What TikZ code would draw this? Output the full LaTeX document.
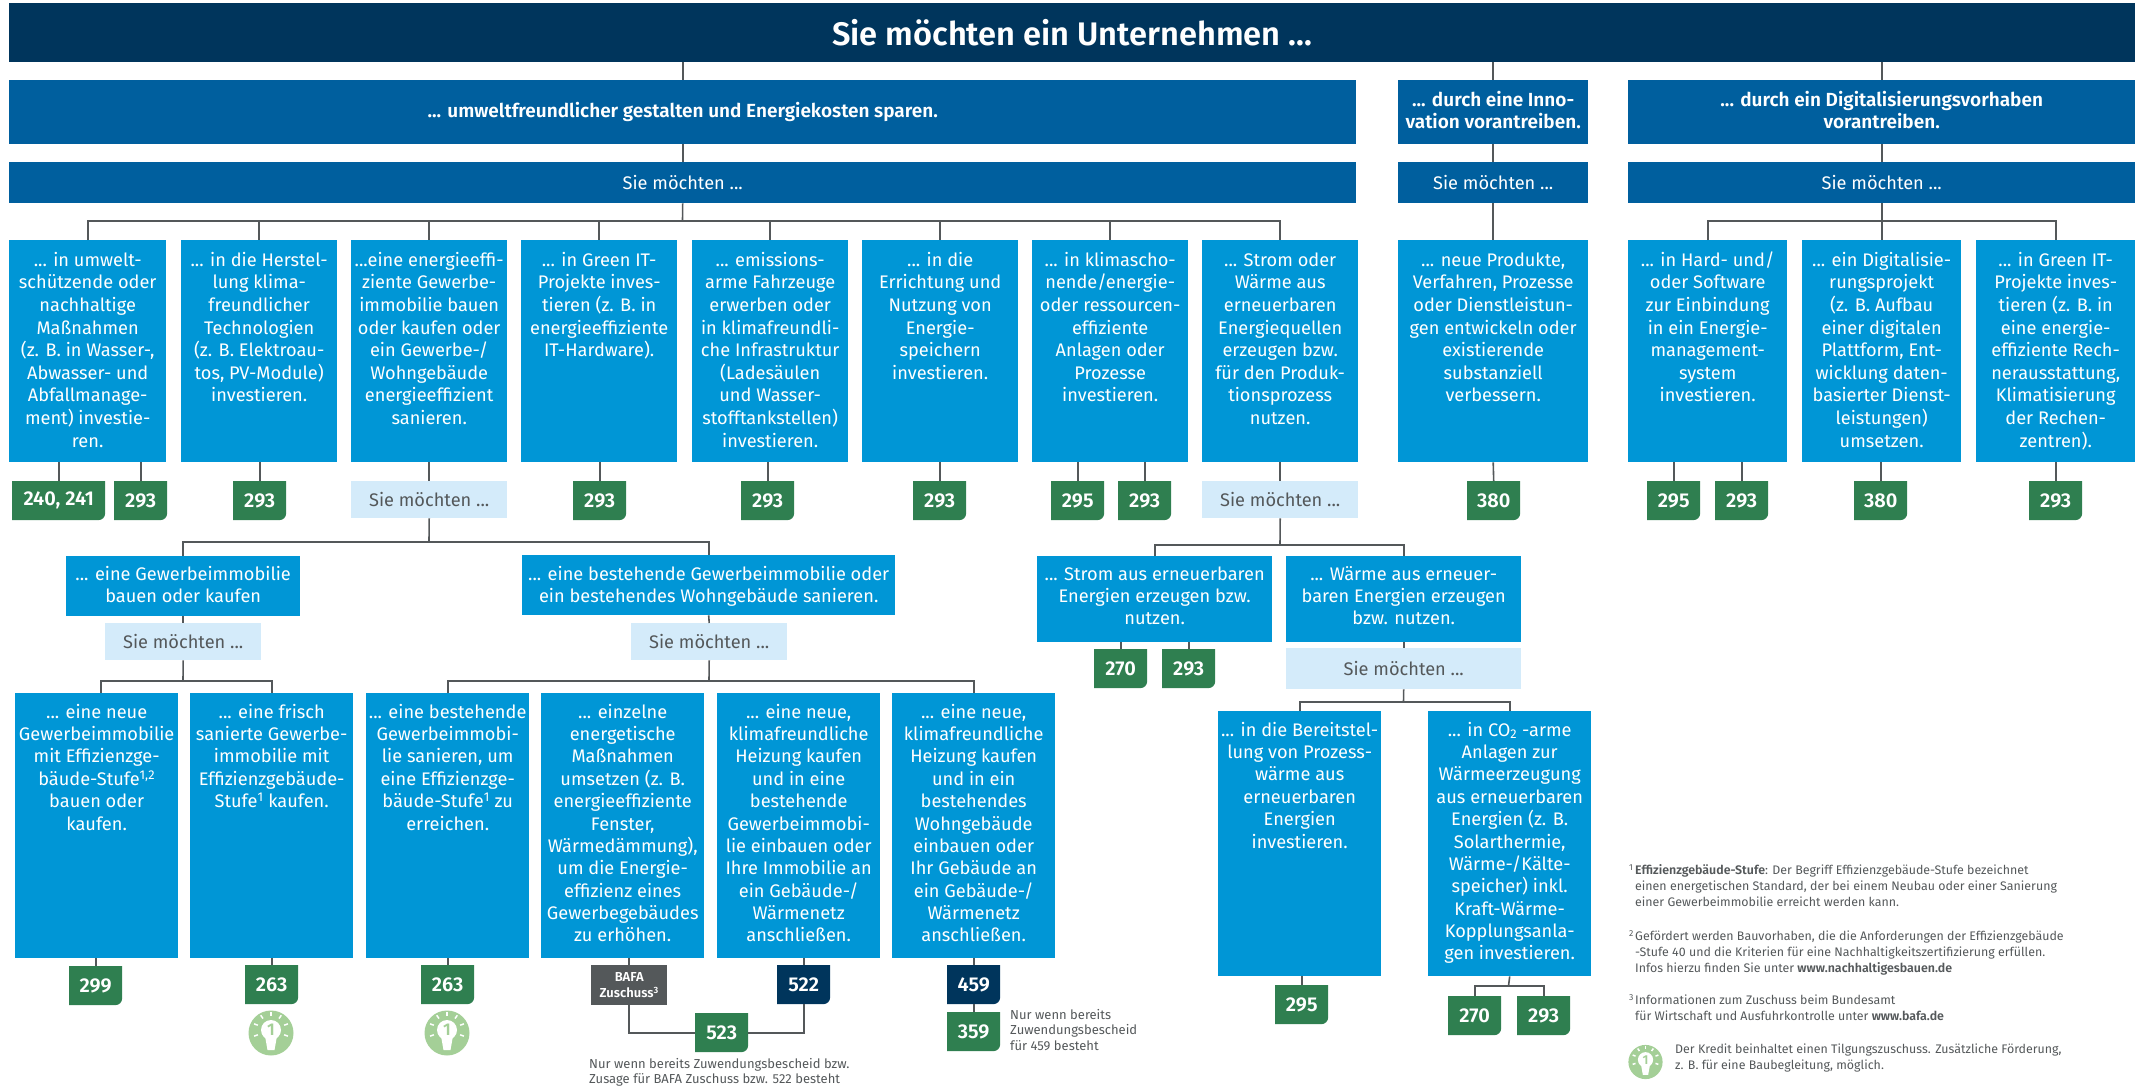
\documentclass[tikz,border=0pt]{standalone}
\usepackage{fontspec}
\setmainfont[BoldFont={Fira Sans SemiBold}]{Fira Sans}
\usetikzlibrary{positioning,arrows}
\definecolor{navy}{HTML}{00355C}
\definecolor{midblue}{HTML}{005F9E}
\definecolor{cardblue}{HTML}{0096D6}
\definecolor{paleblue}{HTML}{D4EBFA}
\definecolor{badgegreen}{HTML}{2F7F50}
\definecolor{bafagray}{HTML}{54585A}
\definecolor{bulbgreen}{HTML}{A4CF97}
\definecolor{linegray}{HTML}{54585A}
\newcommand{\cardtext}[4][26]{\parbox[t][#3pt][t]{#2pt}{\centering\rule{0pt}{#1pt}#4}}
\tikzset{
  box/.style={anchor=north west, inner sep=0pt, align=center, text=white, font=\fontsize{18.2}{22.6}\selectfont},
  titlebox/.style={box, fill=navy, font=\fontsize{32.6}{38}\selectfont\bfseries},
  headbox/.style={box, fill=midblue, font=\fontsize{19}{22}\selectfont\bfseries},
  subbox/.style={box, fill=midblue},
  card/.style={box, fill=cardblue},
  lowcard/.style={box, fill=cardblue, font=\fontsize{18.2}{22.36}\selectfont},
  palebox/.style={box, fill=paleblue, text=linegray},
  badge/.style={anchor=north west, inner sep=0pt, text=white, minimum width=53pt, minimum height=39pt,
    font=\fontsize{20}{24}\selectfont\bfseries,
    path picture={\fill[#1] (path picture bounding box.north west) -- (path picture bounding box.north east)
      [rounded corners=7pt] -- (path picture bounding box.south east) [sharp corners]
      -- (path picture bounding box.south west) -- cycle;}},
  badge/.default=badgegreen,
  note/.style={anchor=north west, inner sep=0pt, align=left, text=linegray, font=\fontsize{13}{15.6}\selectfont},
  footnote/.style={note, font=\fontsize{12.4}{16}\selectfont},
  conn/.style={draw=linegray, line width=1.6pt},
  bulbicon/.pic={
    \fill[bulbgreen] (0,0) circle (22.5);
    \fill[white] (0,-3) circle (10);
    \fill[white] (-6,3) -- (6,3) -- (3.5,17) -- (-3.5,17) -- cycle;
    \foreach \a in {-160,-125,-90,-55,-20,20,160}
      \draw[white, line width=1.5pt] (\a:14) ++(0,-3) -- ++(\a:4);
    \node[transform shape, inner sep=0pt, text=bulbgreen, font=\fontsize{17}{17}\selectfont\bfseries] (one) at (0,-3) {1};
  }
}

\begin{document}
\begin{tikzpicture}[x=1pt, y=-1pt]
      \useasboundingbox (0,0) rectangle (2145,1092);
      % top rows
      \node[titlebox, minimum width=2126pt, minimum height=59pt] (title) at (9,3) {Sie möchten ein Unternehmen ...};
      \node[headbox, minimum width=1347pt, minimum height=64pt] (umwelt) at (9,80) {... umweltfreundlicher gestalten und Energiekosten sparen.};
      \node[headbox] (innov) at (1398,80) {\cardtext[26]{190}{64}{... durch eine Inno-\\vation vorantreiben.}};
      \node[headbox] (digital) at (1628,80) {\cardtext[26]{507}{64}{... durch ein Digitalisierungsvorhaben\\vorantreiben.}};
      \node[subbox, minimum width=1347pt, minimum height=41pt] (umweltsub) at (9,162) {Sie möchten ...};
      \node[subbox, minimum width=190pt, minimum height=41pt] (innovsub) at (1398,162) {Sie möchten ...};
      \node[subbox, minimum width=507pt, minimum height=41pt] (digitalsub) at (1628,162) {Sie möchten ...};
      % first row of cards
      \node[card] (c1) at (9,240) {\cardtext{157}{222}{... in umwelt-\\schützende oder\\nachhaltige\\Maßnahmen\\(z. B. in Wasser-,\\Abwasser- und\\Abfallmanage-\\ment) investie-\\ren.}};
      \node[card] (c2) at (181,240) {\cardtext{156}{222}{... in die Herstel-\\lung klima-\\freundlicher\\Technologien\\(z. B. Elektroau-\\tos, PV-Module)\\investieren.}};
      \node[card] (c3) at (351,240) {\cardtext{156}{222}{...eine energieeffi-\\ziente Gewerbe-\\immobilie bauen\\oder kaufen oder\\ein Gewerbe-/\\Wohngebäude\\energieeffizient\\sanieren.}};
      \node[card] (c4) at (521,240) {\cardtext{156}{222}{... in Green IT-\\Projekte inves-\\tieren (z. B. in\\energieeffiziente\\IT-Hardware).}};
      \node[card] (c5) at (692,240) {\cardtext{156}{222}{... emissions-\\arme Fahrzeuge\\erwerben oder\\in klimafreundli-\\che Infrastruktur\\(Ladesäulen\\und Wasser-\\stofftankstellen)\\investieren.}};
      \node[card] (c6) at (862,240) {\cardtext{156}{222}{... in die\\Errichtung und\\Nutzung von\\Energie-\\speichern\\investieren.}};
      \node[card] (c7) at (1032,240) {\cardtext{156}{222}{... in klimascho-\\nende/energie-\\oder ressourcen-\\effiziente\\Anlagen oder\\Prozesse\\investieren.}};
      \node[card] (c8) at (1202,240) {\cardtext{156}{222}{... Strom oder\\Wärme aus\\erneuerbaren\\Energiequellen\\erzeugen bzw.\\für den Produk-\\tionsprozess\\nutzen.}};
      \node[card] (c9) at (1398,240) {\cardtext{190}{222}{... neue Produkte,\\Verfahren, Prozesse\\oder Dienstleistun-\\gen entwickeln oder\\existierende\\substanziell\\verbessern.}};
      \node[card] (c10) at (1628,240) {\cardtext{159}{222}{... in Hard- und/\\oder Software\\zur Einbindung\\in ein Energie-\\management-\\system\\investieren.}};
      \node[card] (c11) at (1802,240) {\cardtext{159}{222}{... ein Digitalisie-\\rungsprojekt\\(z. B. Aufbau\\einer digitalen\\Plattform, Ent-\\wicklung daten-\\basierter Dienst-\\leistungen)\\umsetzen.}};
      \node[card] (c12) at (1976,240) {\cardtext{159}{222}{... in Green IT-\\Projekte inves-\\tieren (z. B. in\\eine energie-\\effiziente Rech-\\nerausstattung,\\Klimatisierung\\der Rechen-\\zentren).}};
      % badges under the first row
      \node[badge, minimum width=93pt] (b240) at (12,481) {240, 241};
      \node[badge] (b293a) at (114,481) {293};
      \node[badge] (b293b) at (233,481) {293};
      \node[palebox, minimum width=156pt, minimum height=37pt] (pale1) at (351,481) {Sie möchten ...};
      \node[badge] (b293c) at (573,481) {293};
      \node[badge] (b293d) at (741,481) {293};
      \node[badge] (b293e) at (913,481) {293};
      \node[badge] (b295a) at (1051,481) {295};
      \node[badge] (b293f) at (1118,481) {293};
      \node[palebox, minimum width=156pt, minimum height=37pt] (pale2) at (1202,481) {Sie möchten ...};
      \node[badge] (b380a) at (1467,481) {380};
      \node[badge] (b295b) at (1647,481) {295};
      \node[badge] (b293g) at (1715,481) {293};
      \node[badge] (b380b) at (1854,481) {380};
      \node[badge] (b293h) at (2029,481) {293};
      % second level
      \node[lowcard] (neu) at (66,556) {\cardtext[24]{234}{60}{... eine Gewerbeimmobilie\\bauen oder kaufen}};
      \node[lowcard] (best) at (522,555) {\cardtext[25]{373}{60}{... eine bestehende Gewerbeimmobilie oder\\ein bestehendes Wohngebäude sanieren.}};
      \node[palebox, minimum width=156pt, minimum height=37pt] (pale3) at (105,623) {Sie möchten ...};
      \node[palebox, minimum width=156pt, minimum height=37pt] (pale4) at (631,623) {Sie möchten ...};
      \node[lowcard] (strom) at (1037,556) {\cardtext[24]{235}{86}{... Strom aus erneuerbaren\\Energien erzeugen bzw.\\nutzen.}};
      \node[lowcard] (waerme) at (1286,556) {\cardtext[24]{235}{86}{... Wärme aus erneuer-\\baren Energien erzeugen\\bzw. nutzen.}};
      \node[badge] (b270a) at (1094,649) {270};
      \node[badge] (b293i) at (1162,649) {293};
      \node[palebox, minimum width=235pt, minimum height=41pt] (pale5) at (1286,648) {Sie möchten ...};
      % third level
      \node[lowcard] (d1) at (15,693) {\cardtext[25]{163}{265}{... eine neue\\Gewerbeimmobilie\\mit Effizienzge-\\bäude-Stufe\textsuperscript{1,2}\\bauen oder\\kaufen.}};
      \node[lowcard] (d2) at (190,693) {\cardtext[25]{163}{265}{... eine frisch\\sanierte Gewerbe-\\immobilie mit\\Effizienzgebäude-\\Stufe\textsuperscript{1} kaufen.}};
      \node[lowcard] (d3) at (366,693) {\cardtext[25]{163}{265}{... eine bestehende\\Gewerbeimmobi-\\lie sanieren, um\\eine Effizienzge-\\bäude-Stufe\textsuperscript{1} zu\\erreichen.}};
      \node[lowcard] (d4) at (541,693) {\cardtext[25]{163}{265}{... einzelne\\energetische\\Maßnahmen\\umsetzen (z. B.\\energieeffiziente\\Fenster,\\Wärmedämmung),\\um die Energie-\\effizienz eines\\Gewerbegebäudes\\zu erhöhen.}};
      \node[lowcard] (d5) at (717,693) {\cardtext[25]{163}{265}{... eine neue,\\klimafreundliche\\Heizung kaufen\\und in eine\\bestehende\\Gewerbeimmobi-\\lie einbauen oder\\Ihre Immobilie an\\ein Gebäude-/\\Wärmenetz\\anschließen.}};
      \node[lowcard] (d6) at (892,693) {\cardtext[25]{163}{265}{... eine neue,\\klimafreundliche\\Heizung kaufen\\und in ein\\bestehendes\\Wohngebäude\\einbauen oder\\Ihr Gebäude an\\ein Gebäude-/\\Wärmenetz\\anschließen.}};
      \node[lowcard] (e1) at (1218,711) {\cardtext[25]{163}{265}{... in die Bereitstel-\\lung von Prozess-\\wärme aus\\erneuerbaren\\Energien\\investieren.}};
      \node[lowcard] (e2) at (1428,711) {\cardtext[25]{163}{265}{... in CO\textsubscript{2} -arme\\Anlagen zur\\Wärmeerzeugung\\aus erneuerbaren\\Energien (z. B.\\Solarthermie,\\Wärme-/Kälte-\\speicher) inkl.\\Kraft-Wärme-\\Kopplungsanla-\\gen investieren.}};
      % badges under the third level
      \node[badge] (b299) at (69,966) {299};
      \node[badge] (b263a) at (245,965) {263};
      \node[badge] (b263b) at (421,965) {263};
      \node[box, fill=bafagray, minimum width=76pt, minimum height=40pt, font=\fontsize{13}{16}\selectfont\bfseries] (bafa) at (591,965) {BAFA\\Zuschuss\textsuperscript{3}};
      \node[badge=navy] (b522) at (777,965) {522};
      \node[badge] (b523) at (695,1013) {523};
      \node[badge=navy] (b459) at (947,965) {459};
      \node[badge] (b359) at (947,1012) {359};
      \node[badge] (b295c) at (1275,985) {295};
      \node[badge] (b270b) at (1448,996) {270};
      \node[badge] (b293j) at (1517,996) {293};
      % bulbs
      \pic (bulbA) at (271,1033) {bulbicon};
      \pic (bulbB) at (447,1033) {bulbicon};
      \pic[scale=0.76] (bulbC) at (1645.5,1062) {bulbicon};
      % notes
      \node[note] (note523) at (589,1058) {Nur wenn bereits Zuwendungsbescheid bzw.\\Zusage für BAFA Zuschuss bzw. 522 besteht};
      \node[note] (note359) at (1010,1009) {Nur wenn bereits\\Zuwendungsbescheid\\für 459 besteht};
      \node[footnote] (foot1) at (1629,864) {\makebox[6pt][l]{\textsuperscript{1}}\textbf{Effizienzgebäude-Stufe}: Der Begriff Effizienzgebäude-Stufe bezeichnet\\\hspace*{6pt}einen energetischen Standard, der bei einem Neubau oder einer Sanierung\\\hspace*{6pt}einer Gewerbeimmobilie erreicht werden kann.};
      \node[footnote] (foot2) at (1629,930) {\makebox[6pt][l]{\textsuperscript{2}}Gefördert werden Bauvorhaben, die die Anforderungen der Effizienzgebäude\\\hspace*{6pt}-Stufe 40 und die Kriterien für eine Nachhaltigkeitszertifizierung erfüllen.\\\hspace*{6pt}Infos hierzu finden Sie unter \textbf{www.nachhaltigesbauen.de}};
      \node[footnote] (foot3) at (1629,994) {\makebox[6pt][l]{\textsuperscript{3}}Informationen zum Zuschuss beim Bundesamt\\\hspace*{6pt}für Wirtschaft und Ausfuhrkontrolle unter \textbf{www.bafa.de}};
      \node[footnote] (foot4) at (1675,1044) {Der Kredit beinhaltet einen Tilgungszuschuss. Zusätzliche Förderung,\\z. B. für eine Baubegleitung, möglich.};
      % connectors top
      \draw[conn] (title.south -| umwelt.north) -- (umwelt.north);
      \draw[conn] (title.south -| innov.north) -- (innov.north);
      \draw[conn] (title.south -| digital.north) -- (digital.north);
      \draw[conn] (umwelt.south) -- (umweltsub.north);
      \draw[conn] (innov.south) -- (innovsub.north);
      \draw[conn] (digital.south) -- (digitalsub.north);
      \coordinate (busA) at (682.5,221);
      \coordinate (busB) at (1881.5,221);
      \draw[conn] (umweltsub.south) -- (busA);
      \draw[conn] (c1.north) |- (busA) -| (c8.north);
      \draw[conn] (busA -| c2.north) -- (c2.north);
      \draw[conn] (busA -| c3.north) -- (c3.north);
      \draw[conn] (busA -| c4.north) -- (c4.north);
      \draw[conn] (busA -| c5.north) -- (c5.north);
      \draw[conn] (busA -| c6.north) -- (c6.north);
      \draw[conn] (busA -| c7.north) -- (c7.north);
      \draw[conn] (innovsub.south) -- (c9.north);
      \draw[conn] (digitalsub.south) -- (c11.north);
      \draw[conn] (c10.north) |- (busB) -| (c12.north);
      % connectors to badges
      \draw[conn] (c1.south -| b240.north) -- (b240.north);
      \draw[conn] (c1.south -| b293a.north) -- (b293a.north);
      \draw[conn] (c2.south -| b293b.north) -- (b293b.north);
      \draw[conn] (c3.south) -- (pale1.north);
      \draw[conn] (c4.south -| b293c.north) -- (b293c.north);
      \draw[conn] (c5.south -| b293d.north) -- (b293d.north);
      \draw[conn] (c6.south -| b293e.north) -- (b293e.north);
      \draw[conn] (c7.south -| b295a.north) -- (b295a.north);
      \draw[conn] (c7.south -| b293f.north) -- (b293f.north);
      \draw[conn] (c8.south) -- (pale2.north);
      \draw[conn] (c9.south) -- (b380a.north);
      \draw[conn] (c10.south -| b295b.north) -- (b295b.north);
      \draw[conn] (c10.south -| b293g.north) -- (b293g.north);
      \draw[conn] (c11.south -| b380b.north) -- (b380b.north);
      \draw[conn] (c12.south -| b293h.north) -- (b293h.north);
      % connectors second level
      \coordinate (busC) at (429,542);
      \coordinate (busD) at (1280,545);
      \draw[conn] (pale1.south) -- (busC);
      \draw[conn] (neu.north) |- (busC) -| (best.north);
      \draw[conn] (pale2.south) -- (busD);
      \draw[conn] (strom.north) |- (busD) -| (waerme.north);
      \draw[conn] (neu.south) -- (pale3.north);
      \draw[conn] (best.south) -- (pale4.north);
      \draw[conn] (strom.south -| b270a.north) -- (b270a.north);
      \draw[conn] (strom.south -| b293i.north) -- (b293i.north);
      \draw[conn] (waerme.south) -- (pale5.north);
      % connectors third level
      \coordinate (busE) at (183,681);
      \coordinate (busF) at (709,681);
      \coordinate (busG) at (1403.5,702);
      \coordinate (busH) at (1508.5,986);
      \draw[conn] (pale3.south) -- (busE);
      \draw[conn] ([xshift=4pt]d1.north) |- (busE) -| (d2.north);
      \draw[conn] (pale4.south) -- (busF);
      \draw[conn] (d3.north) |- (busF) -| (d6.north);
      \draw[conn] (pale5.south) -- (busG);
      \draw[conn] (e1.north) |- (busG) -| (e2.north);
      \draw[conn] (d1.south -| b299.north) -- (b299.north);
      \draw[conn] (d2.south -| b263a.north) -- (b263a.north);
      \draw[conn] (d3.south -| b263b.north) -- (b263b.north);
      \draw[conn] (d4.south -| bafa.north) -- (bafa.north);
      \draw[conn] (d5.south -| b522.north) -- (b522.north);
      \draw[conn] (d6.south -| b459.north) -- (b459.north);
      \draw[conn] (b459.south) -- (b359.north);
      \draw[conn] (bafa.south) |- (b523.west);
      \draw[conn] (b522.south) |- (b523.east);
      \draw[conn] (e1.south -| b295c.north) -- (b295c.north);
      \draw[conn] (e2.south) -- (busH);
      \draw[conn] (b270b.north) |- (busH) -| (b293j.north);
    \end{tikzpicture}
\end{document}
